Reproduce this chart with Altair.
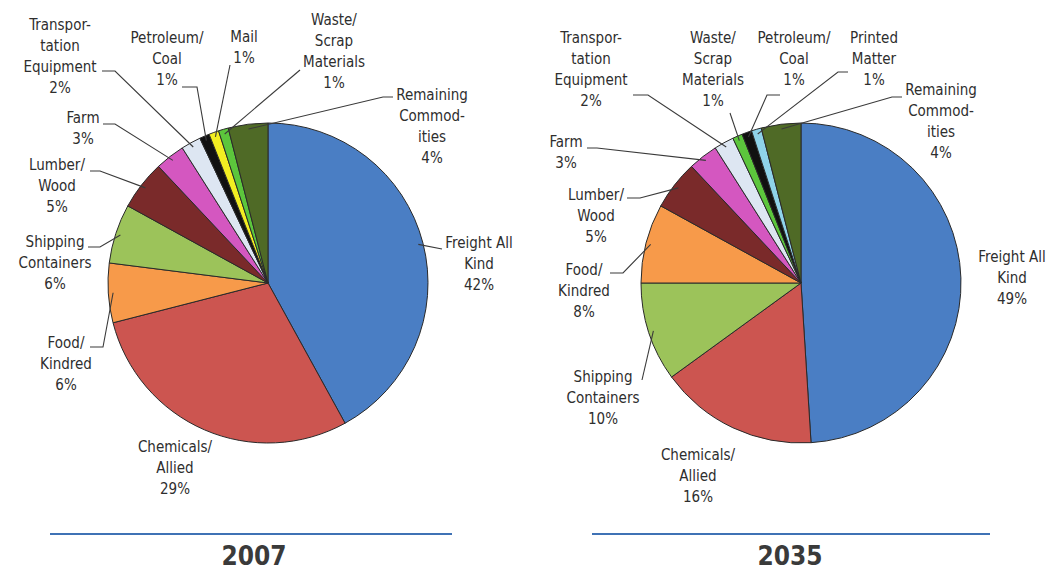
import math
import altair as alt
import pandas as pd

# ---------------- data ----------------
cats_2007 = ["Freight All Kind", "Chemicals/Allied", "Food/Kindred", "Shipping Containers",
             "Lumber/Wood", "Farm", "Transportation Equipment", "Petroleum/Coal", "Mail",
             "Waste/Scrap Materials", "Remaining Commodities"]
vals_2007 = [42, 29, 6, 6, 5, 3, 2, 1, 1, 1, 4]

cats_2035 = ["Freight All Kind", "Chemicals/Allied", "Shipping Containers", "Food/Kindred",
             "Lumber/Wood", "Farm", "Transportation Equipment", "Waste/Scrap Materials",
             "Petroleum/Coal", "Printed Matter", "Remaining Commodities"]
vals_2035 = [49, 16, 10, 8, 5, 3, 2, 1, 1, 1, 4]

years = ["2007", "2035"]

# label text (with the line breaks used in the picture)
label_text = {
    "Freight All Kind": "Freight All\nKind",
    "Chemicals/Allied": "Chemicals/\nAllied",
    "Food/Kindred": "Food/\nKindred",
    "Shipping Containers": "Shipping\nContainers",
    "Lumber/Wood": "Lumber/\nWood",
    "Farm": "Farm",
    "Transportation Equipment": "Transpor-\ntation\nEquipment",
    "Petroleum/Coal": "Petroleum/\nCoal",
    "Mail": "Mail",
    "Waste/Scrap Materials": "Waste/\nScrap\nMaterials",
    "Remaining Commodities": "Remaining\nCommod-\nities",
    "Printed Matter": "Printed\nMatter",
}

# ---------------- styles ----------------
colors = {
    "Freight All Kind": "#4a7ec4",
    "Chemicals/Allied": "#cc5550",
    "Food/Kindred": "#f79a4a",
    "Shipping Containers": "#9cc35a",
    "Lumber/Wood": "#7a2a2a",
    "Farm": "#d457c0",
    "Transportation Equipment": "#dde6f2",
    "Petroleum/Coal": "#111111",
    "Mail": "#f2ee22",
    "Waste/Scrap Materials": "#5cc63c",
    "Printed Matter": "#8fd3ea",
    "Remaining Commodities": "#4f6a26",
}

# ---------------- layout (reference pixel coordinates) ----------------
W, H, M = 1041, 565, 8
R = 160
centers = {"2007": (268, 283), "2035": (801, 283)}

# label anchor: (centre x, centre y of first line)
label_pos = {
    "2007": {
        "Freight All Kind": (479, 243), "Chemicals/Allied": (175, 447),
        "Food/Kindred": (66, 343), "Shipping Containers": (55, 242),
        "Lumber/Wood": (57, 165), "Farm": (83, 118),
        "Transportation Equipment": (60, 25), "Petroleum/Coal": (167, 38),
        "Mail": (244, 37), "Waste/Scrap Materials": (334, 20),
        "Remaining Commodities": (432, 95),
    },
    "2035": {
        "Freight All Kind": (1012, 257), "Chemicals/Allied": (698, 455),
        "Shipping Containers": (603, 377), "Food/Kindred": (584, 270),
        "Lumber/Wood": (596, 195), "Farm": (566, 142),
        "Transportation Equipment": (591, 38), "Waste/Scrap Materials": (713, 38),
        "Petroleum/Coal": (794, 38), "Printed Matter": (874, 38),
        "Remaining Commodities": (941, 90),
    },
}

# leader lines: points on the label side; last point is computed on the slice
leader_pts = {
    "2007": {
        "Freight All Kind": [(442, 249)],
        "Food/Kindred": [(90, 347), (103, 347)],
        "Shipping Containers": [(88, 247), (100, 247)],
        "Lumber/Wood": [(90, 171), (100, 171)],
        "Farm": [(103, 124), (115, 124)],
        "Transportation Equipment": [(102, 71), (115, 71)],
        "Petroleum/Coal": [(182, 87), (197, 87)],
        "Mail": [(230, 65)],
        "Waste/Scrap Materials": [(300, 70)],
        "Remaining Commodities": [(393, 97), (383, 97)],
    },
    "2035": {
        "Transportation Equipment": [(633, 95), (648, 95)],
        "Waste/Scrap Materials": [(730, 113)],
        "Petroleum/Coal": [(780, 95), (767, 95)],
        "Printed Matter": [(848, 72), (838, 72)],
        "Remaining Commodities": [(902, 97), (892, 97)],
        "Farm": [(587, 148), (597, 148)],
        "Lumber/Wood": [(627, 198), (640, 198)],
        "Food/Kindred": [(610, 273), (623, 273)],
        "Shipping Containers": [(642, 380)],
    },
}

underline = {"2007": (50, 452, 534), "2035": (592, 990, 534)}
year_pos = {"2007": (254, 565), "2035": (790, 565)}

FONT = "Liberation Sans Narrow, Arial Narrow, DejaVu Sans Condensed, sans-serif"
FS = 15
LH = 21

# ---------------- build tables ----------------
series = {"2007": (cats_2007, vals_2007), "2035": (cats_2035, vals_2035)}

pie_rows, label_rows, line_rows = [], [], []
for yr, (cats, vals) in series.items():
    cx, cy = centers[yr]
    total = sum(vals)
    cum = 0
    for i, (c, v) in enumerate(zip(cats, vals)):
        pie_rows.append({"year": yr, "cat": c, "value": v, "idx": i})
        mid = (cum + v / 2) / total * 2 * math.pi
        cum += v
        lx, ly = label_pos[yr][c]
        label_rows.append({"year": yr, "text": label_text[c] + f"\n{v}%",
                           "x": lx, "y": ly + 5})
        if c in leader_pts[yr]:
            pts = list(leader_pts[yr][c])
            ex = cx + R * 0.97 * math.sin(mid)
            ey = cy - R * 0.97 * math.cos(mid)
            pts.append((ex, ey))
            for k, (px, py) in enumerate(pts):
                line_rows.append({"lid": f"{yr}-{c}", "k": k, "x": px, "y": py})

pie_df = pd.DataFrame(pie_rows)
label_df = pd.DataFrame(label_rows)
line_df = pd.DataFrame(line_rows)
ul_df = pd.DataFrame([{"year": y, "x": underline[y][0], "x2": underline[y][1],
                       "y": underline[y][2]} for y in years])
yr_df = pd.DataFrame([{"year": y, "x": year_pos[y][0], "y": year_pos[y][1]} for y in years])

xs = alt.Scale(domain=[M, M + W], nice=False, zero=False)
ys = alt.Scale(domain=[M, M + H], nice=False, zero=False, reverse=True)
X = lambda f="x": alt.X(f"{f}:Q", scale=xs, axis=None)
Y = lambda f="y": alt.Y(f"{f}:Q", scale=ys, axis=None)

color_scale = alt.Scale(domain=list(colors.keys()), range=list(colors.values()))

pies = []
for yr in years:
    cx, cy = centers[yr]
    pies.append(
        alt.Chart(pie_df[pie_df.year == yr]).mark_arc(
            outerRadius=R, stroke="#2a2a2a", strokeWidth=1
        ).encode(
            theta=alt.Theta("value:Q", stack=True),
            order=alt.Order("idx:Q"),
            color=alt.Color("cat:N", scale=color_scale, legend=None),
            x=alt.value(cx - M), y=alt.value(cy - M),
        )
    )

lines = alt.Chart(line_df).mark_line(color="#3a3a3a", strokeWidth=1.1).encode(
    x=X(), y=Y(), detail="lid:N", order="k:Q")

labels = alt.Chart(label_df).mark_text(
    font=FONT, fontSize=FS, lineHeight=LH, align="center", baseline="alphabetic",
    color="#2e2e2e", lineBreak="\n"
).encode(x=X(), y=Y(), text="text:N")

ul = alt.Chart(ul_df).mark_rule(color="#3f72b5", strokeWidth=2).encode(
    x=X(), x2="x2:Q", y=Y())

yt = alt.Chart(yr_df).mark_text(
    font=FONT, fontSize=26, fontWeight="bold", align="center", baseline="alphabetic",
    color="#3a3a3a"
).encode(x=X(), y=Y(), text="year:N")

chart = alt.layer(*pies, lines, labels, ul, yt).resolve_scale(
    theta="independent", color="shared"
).properties(
    width=W, height=H, padding=0, autosize=alt.AutoSizeParams(type="none")
).configure_view(stroke=None)

chart.save("out.html", embed_options={"renderer": "svg", "actions": False})
